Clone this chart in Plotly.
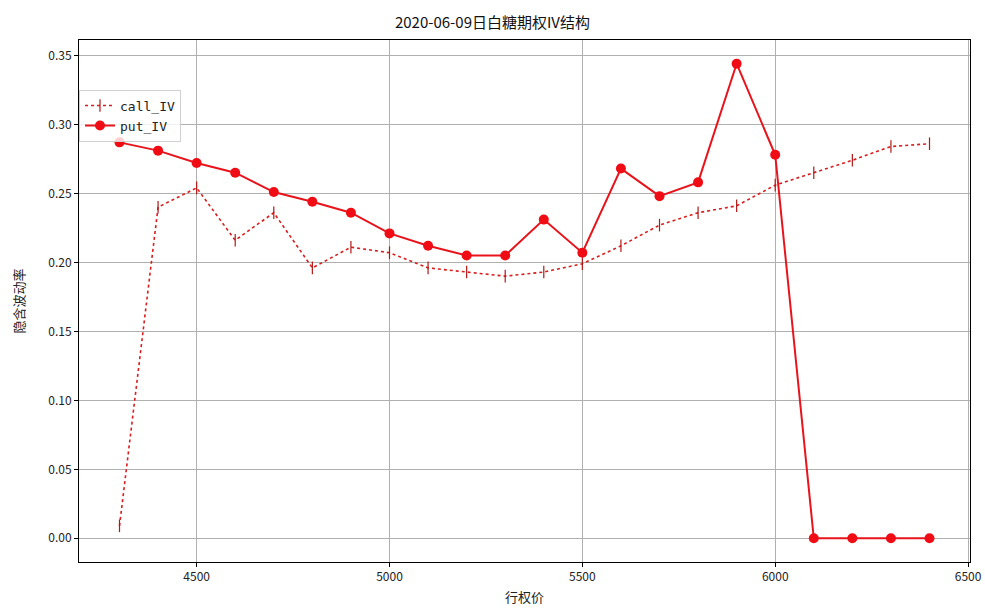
import plotly.graph_objects as go

strikes = [4300, 4400, 4500, 4600, 4700, 4800, 4900, 5000, 5100, 5200, 5300,
           5400, 5500, 5600, 5700, 5800, 5900, 6000, 6100, 6200, 6300, 6400]
call_iv = [0.009, 0.240, 0.254, 0.216, 0.236, 0.196, 0.211, 0.207, 0.196, 0.193, 0.190,
           0.193, 0.199, 0.212, 0.227, 0.236, 0.241, 0.256, 0.265, 0.274, 0.284, 0.286]
put_iv = [0.287, 0.281, 0.272, 0.265, 0.251, 0.244, 0.236, 0.221, 0.212, 0.205, 0.205,
          0.231, 0.207, 0.268, 0.248, 0.258, 0.344, 0.278, 0.0, 0.0, 0.0, 0.0]
x_ticks = [4500, 5000, 5500, 6000, 6500]
y_ticks = [0.00, 0.05, 0.10, 0.15, 0.20, 0.25, 0.30, 0.35]

FONT = "Noto Sans CJK SC, DejaVu Sans"

fig = go.Figure()
fig.add_trace(go.Scatter(
    x=strikes, y=call_iv, name="call_IV", mode="lines+markers",
    line=dict(color="#d81e1e", width=1.6, dash="dot"),
    marker=dict(symbol="line-ns", size=9, line=dict(color="#b01818", width=1.2)),
))
fig.add_trace(go.Scatter(
    x=strikes, y=put_iv, name="put_IV", mode="lines+markers",
    line=dict(color="#e8141c", width=2),
    marker=dict(symbol="circle", size=10, color="#f00c14"),
))

fig.update_layout(
    width=985, height=610,
    margin=dict(l=79, r=15, t=40, b=48),
    paper_bgcolor="white", plot_bgcolor="white",
    font=dict(family=FONT, size=12, color="#222"),
    title=dict(text="2020-06-09日白糖期权IV结构", x=0.5, xanchor="center",
               y=0.962, yanchor="middle", font=dict(size=15, family=FONT, color="#111")),
    showlegend=True,
    legend=dict(x=0.0, y=0.905, xanchor="left", yanchor="top",
                bgcolor="rgba(255,255,255,0.8)", bordercolor="#d0d0d0", borderwidth=1,
                font=dict(size=13, family="DejaVu Sans Mono, " + FONT)),
    xaxis=dict(range=[4195, 6505], tickvals=x_ticks, ticktext=[str(v) for v in x_ticks],
               automargin=False,
               showgrid=True, gridcolor="#b0b0b0", gridwidth=1,
               showline=True, linecolor="black", linewidth=1, mirror=True,
               ticks="outside", ticklen=4, tickcolor="black", zeroline=False,
               title=dict(text="行权价", font=dict(size=13, family=FONT), standoff=9)),
    yaxis=dict(range=[-0.0172, 0.3612], tickvals=y_ticks,
               ticktext=["%.2f" % v for v in y_ticks],
               automargin=False,
               showgrid=True, gridcolor="#b0b0b0", gridwidth=1,
               showline=True, linecolor="black", linewidth=1, mirror=True,
               ticks="outside", ticklen=4, tickcolor="black", zeroline=False,
               title=dict(text="隐含波动率", font=dict(size=13, family=FONT), standoff=20)),
)

fig.write_html("out.html", config={"displayModeBar": False},
               post_script="document.body.style.margin='0px';document.body.style.overflow='hidden';")
